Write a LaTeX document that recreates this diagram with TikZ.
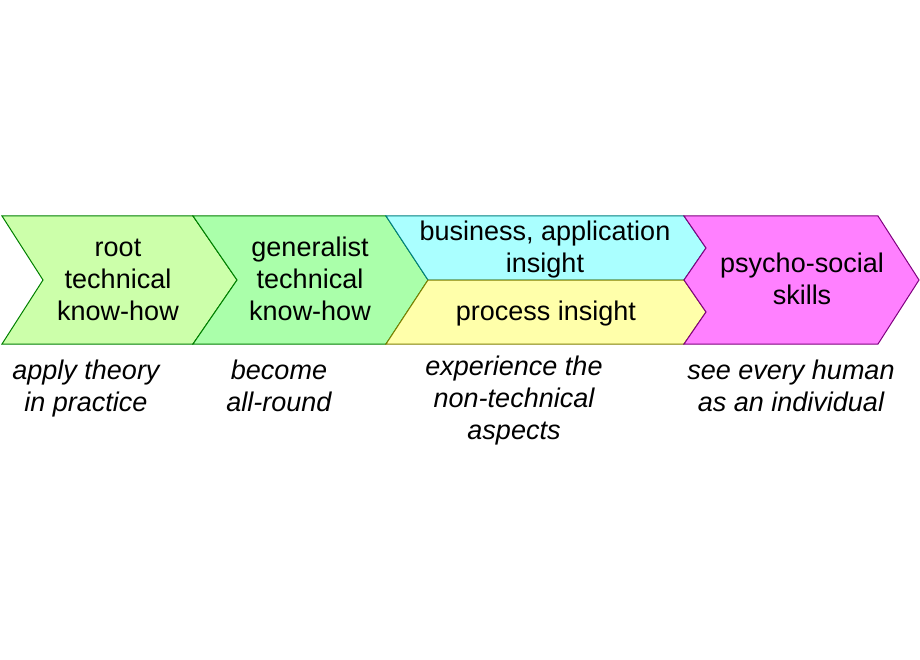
\documentclass[tikz,border=0pt]{standalone}
\usepackage{fontspec}
\setmainfont{Liberation Sans}
\definecolor{fillA}{RGB}{204,255,170}
\definecolor{fillB}{RGB}{170,255,170}
\definecolor{fillC}{RGB}{170,255,255}
\definecolor{fillD}{RGB}{255,255,170}
\definecolor{fillE}{RGB}{255,128,255}
\definecolor{lineG}{RGB}{0,128,0}
\definecolor{lineT}{RGB}{0,128,128}
\definecolor{lineO}{RGB}{128,128,0}
\definecolor{lineP}{RGB}{128,0,128}
\tikzset{
  shapeline/.style={line width=1pt, line join=miter},
  boxtext/.style={align=center, inner sep=0pt, anchor=base, font=\fontsize{27}{32}\selectfont},
  notetext/.style={align=center, inner sep=0pt, anchor=base, font=\fontsize{27}{32}\selectfont\itshape},
}
\begin{document}
\begin{tikzpicture}[x=1pt,y=-1pt]
\useasboundingbox (0,0) rectangle (920,660);
\fill[white] (0,0) rectangle (920,660);
% shapes
\draw[shapeline, draw=lineG, fill=fillA] (2,216) -- (193,216) -- (237,280) -- (193,344) -- (2,344) -- (43,280) -- cycle;
\draw[shapeline, draw=lineG, fill=fillB] (193,216) -- (386,216) -- (428,280) -- (386,344) -- (193,344) -- (237,280) -- cycle;
\draw[shapeline, draw=lineT, fill=fillC] (386,216) -- (684,216) -- (706,248) -- (684,280) -- (428,280) -- cycle;
\draw[shapeline, draw=lineO, fill=fillD] (428,280) -- (684,280) -- (706,312) -- (684,344) -- (386,344) -- cycle;
\draw[shapeline, draw=lineP, fill=fillE] (684,216) -- (878,216) -- (919,280) -- (878,344) -- (684,344) -- (706,312) -- (684,280) -- (706,248) -- cycle;
% box texts (anchored at the baseline of the last line)
\node[boxtext] (root) at (118,320) {root\\technical\\know-how};
\node[boxtext] (gen) at (310,320) {generalist\\technical\\know-how};
\node[boxtext] (bus) at (545,272) {business, application\\insight};
\node[boxtext] (proc) at (546,320) {process insight};
\node[boxtext] (psy) at (802,304) {psycho-social\\skills};
% notes
\node[notetext] (n1) at (86,411) {apply theory\\in practice};
\node[notetext] (n2) at (279,411) {become\\all-round};
\node[notetext] (n3) at (514,439) {experience the\\non-technical\\aspects};
\node[notetext] (n4) at (791,411) {see every human\\as an individual};
\end{tikzpicture}
\end{document}
